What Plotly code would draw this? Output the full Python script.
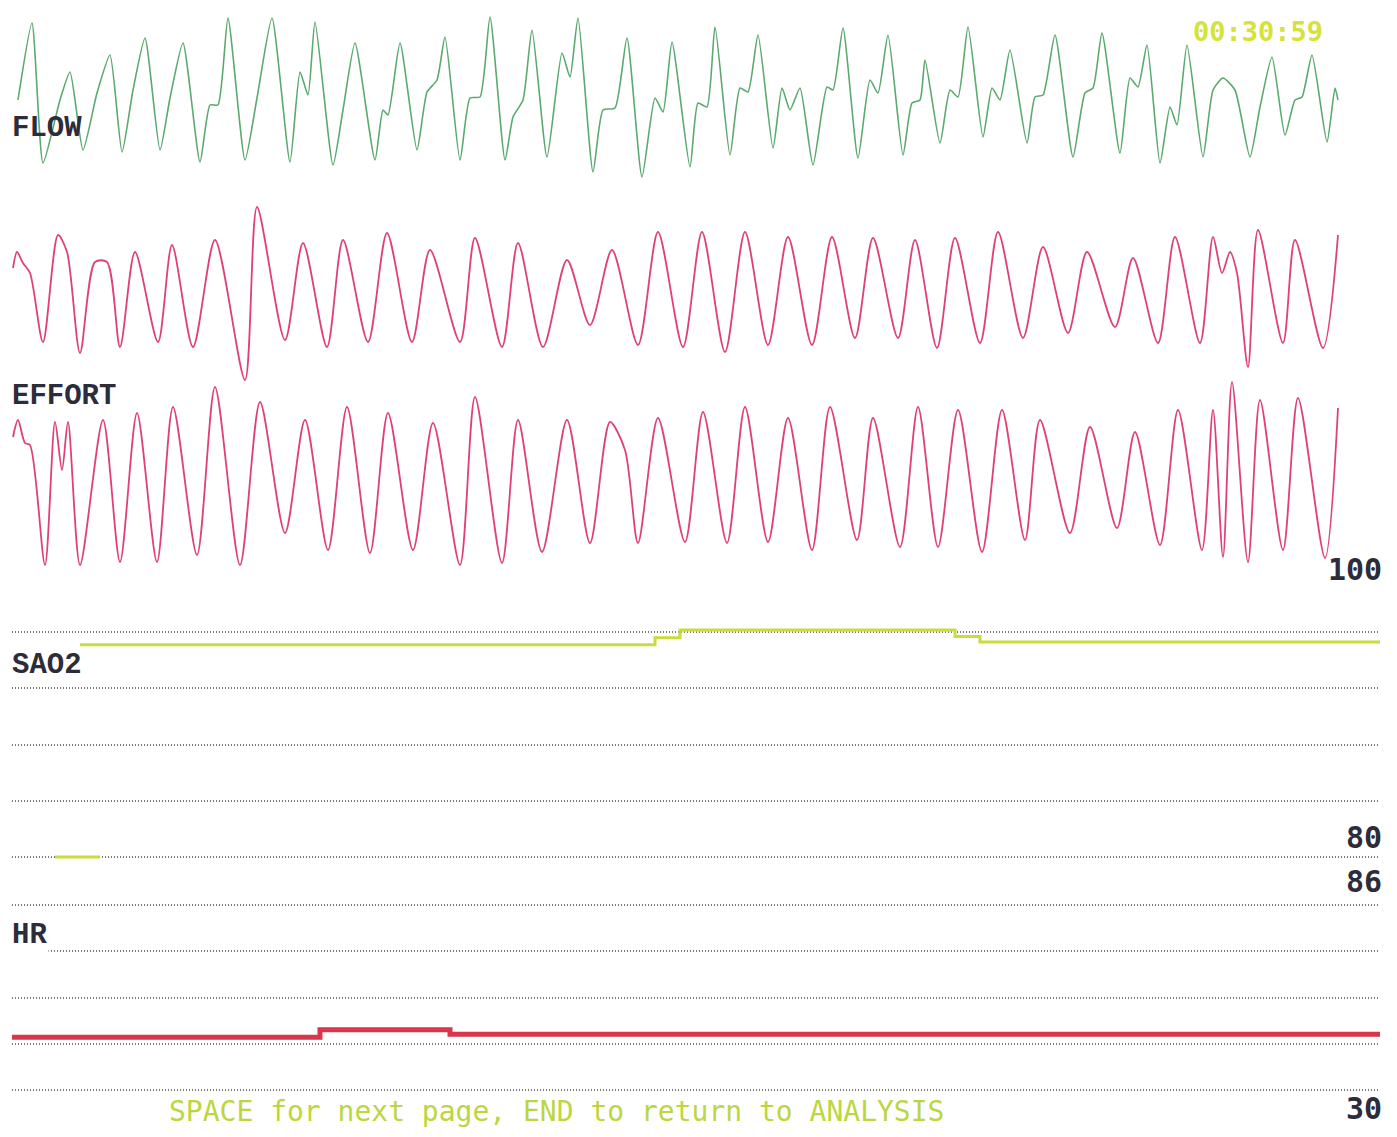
import plotly.graph_objects as go

# ---------------- data (time in s, amplitudes in arbitrary units) ----------------
flow_t = [0.3, 1.0, 1.55, 2.4, 2.9, 3.55, 4.25, 4.9, 5.5, 6.05, 6.65, 7.4, 7.9, 8.55, 9.4, 9.9, 10.3, 10.8,
          11.65, 12.25, 13.0, 13.9, 14.4, 14.8, 15.15, 16.05, 16.55, 17.15, 18.15, 18.55, 18.8, 19.4,
          20.25, 20.75, 21.25, 21.65, 22.4, 22.9, 23.4, 23.9, 24.65, 25.05, 25.55, 26.0, 26.75, 27.5,
          27.9, 28.3, 29.05, 29.55, 30.15, 30.75, 31.5, 32.15, 32.55, 33.0, 33.9, 34.3, 34.75, 35.15,
          35.9, 36.4, 36.8, 37.3, 38.05, 38.5, 38.9, 39.4, 40.05, 40.75, 41.05, 41.55, 42.3, 42.9, 43.3,
          43.8, 44.55, 45.0, 45.4, 45.65, 46.4, 46.9, 47.3, 47.8, 48.55, 49.0, 49.4, 49.9, 50.75, 51.15,
          51.55, 52.15, 53.05, 53.65, 54.05, 54.5, 55.4, 55.9, 56.3, 56.75, 57.4, 57.9, 58.25, 58.75,
          59.55, 60.05, 60.55, 61.15, 61.9, 62.4, 63.0, 63.65, 64.15, 64.5, 65.0, 65.75, 66.15, 66.3]
flow_v = [0, 77, -63, 0, 28, -50, 7, 45, -52, 10, 62, -50, 2, 57, -62, -5, -5, 82,
          -60, 2, 82, -62, 28, 5, 78, -65, -10, 57, -60, -10, -15, 57,
          -50, 8, 20, 63, -60, 2, 3, 83, -60, -17, 0, 70, -57, 47,
          23, 82, -72, -10, -8, 62, -77, 2, -12, 58, -67, -3, -7, 73,
          -55, 12, 8, 65, -48, 12, -10, 12, -65, 13, 10, 72, -58, 20, 7,
          65, -55, -3, 0, 40, -43, 10, 3, 73, -37, 12, 0, 50, -43, 3,
          5, 65, -57, 7, 12, 67, -53, 22, 13, 55, -63, -7, -25, 55,
          -57, 10, 22, 10, -57, -7, 43, -35, 0, 3, 45, -42, 12, 0]

effort1_t = [0.05, 0.25, 0.55, 0.9, 1.55, 2.3, 2.75, 3.4, 4.15, 4.75, 5.4, 6.15, 7.3, 8.0, 9.05, 10.15,
             11.65, 12.25, 13.65, 14.55, 15.75, 16.55, 17.8, 18.75, 20.0, 20.9, 22.4, 23.15, 24.5, 25.3,
             26.55, 27.75, 28.9, 30.0, 31.3, 32.3, 33.55, 34.5, 35.65, 36.65, 37.8, 38.8, 40.0, 41.0,
             42.15, 43.05, 44.3, 45.15, 46.25, 47.15, 48.4, 49.3, 50.55, 51.55, 52.8, 53.75, 55.15,
             56.05, 57.3, 58.15, 59.4, 60.05, 60.5, 60.9, 61.25, 61.8, 62.3, 63.55, 64.15, 65.55, 66.3]
effort1_v = [27, 43, 32, 22, -47, 60, 43, -58, 33, 33, -52, 43, -47, 50, -52, 55,
             -85, 88, -45, 52, -52, 55, -47, 62, -47, 45, -47, 57, -52, 52,
             -52, 35, -30, 45, -50, 63, -52, 63, -57, 63, -50, 58, -50, 58,
             -43, 57, -43, 55, -53, 57, -48, 63, -43, 48, -38, 43, -32,
             37, -48, 58, -48, 58, 22, 43, 22, -72, 65, -48, 55, -53, 60]

effort2_t = [0.05, 0.3, 0.65, 0.9, 1.65, 2.15, 2.5, 2.8, 3.4, 4.55, 5.4, 6.25, 7.25, 8.05, 9.25, 10.15,
             11.4, 12.4, 13.65, 14.65, 15.8, 16.75, 17.9, 18.8, 20.05, 21.05, 22.4, 23.15, 24.5, 25.3,
             26.5, 27.75, 28.9, 29.9, 30.65, 31.3, 32.3, 33.65, 34.55, 35.75, 36.65, 37.8, 38.8, 40.0,
             40.9, 42.25, 43.05, 44.4, 45.3, 46.3, 47.3, 48.5, 49.5, 50.65, 51.4, 52.9, 53.9, 55.25,
             56.15, 57.4, 58.3, 59.5, 60.05, 60.55, 61.0, 61.8, 62.4, 63.55, 64.3, 65.65, 66.3]
effort2_v = [48, 65, 42, 40, -80, 63, 15, 63, -80, 65, -77, 72, -77, 78, -70, 98,
             -80, 83, -48, 65, -65, 78, -68, 72, -65, 62, -80, 88, -78, 65,
             -67, 65, -58, 63, 35, -58, 67, -57, 73, -58, 78, -57, 67, -65,
             78, -55, 67, -62, 78, -62, 75, -67, 75, -55, 65, -48, 58, -43,
             53, -60, 75, -65, 75, -72, 103, -77, 85, -65, 87, -73, 77]

sao2_t = [3.4, 32.15, 33.4, 47.15, 48.4, 68.4]
sao2_v = [95.1, 95.6, 96.15, 95.7, 95.3, 95.3]
sao2_low_t = [2.15, 4.4]
sao2_low_v = [80, 80]

hr_t = [0.0, 15.4, 21.9, 68.4]
hr_v = [46.0, 48.2, 46.9, 46.9]

sao2_grid = [80, 84, 88, 92, 96]
hr_grid = [30, 44, 58, 72, 86]

clock_text = "00:30:59"
footer_text = "SPACE for next page, END to return to ANALYSIS"
channel_labels = ["FLOW", "EFFORT", "SAO2", "HR"]
scale_labels = ["100", "80", "86", "30"]

# ---------------- figure ----------------
W, H = 1397, 1137
GREEN = "#5aa96f"
PINK = "#e0407a"
SAO2_COL = "#c9dc3a"
HR_COL = "#d9354b"
LABEL_COL = "#2c2c3a"

fig = go.Figure()
fig.add_trace(go.Scatter(x=flow_t, y=flow_v, mode="lines",
                         line=dict(color=GREEN, width=1.6, shape="spline", smoothing=0.55),
                         xaxis="x", yaxis="y", name="FLOW"))
fig.add_trace(go.Scatter(x=effort1_t, y=effort1_v, mode="lines",
                         line=dict(color=PINK, width=1.8, shape="spline", smoothing=0.8),
                         xaxis="x", yaxis="y2", name="EFFORT 1"))
fig.add_trace(go.Scatter(x=effort2_t, y=effort2_v, mode="lines",
                         line=dict(color=PINK, width=1.8, shape="spline", smoothing=0.8),
                         xaxis="x", yaxis="y3", name="EFFORT 2"))
fig.add_trace(go.Scatter(x=sao2_t, y=sao2_v, mode="lines", line=dict(color=SAO2_COL, width=3, shape="hv"),
                         xaxis="x", yaxis="y4", name="SAO2"))
fig.add_trace(go.Scatter(x=sao2_low_t, y=sao2_low_v, mode="lines", line=dict(color=SAO2_COL, width=3),
                         xaxis="x", yaxis="y4", name="SAO2 low"))
fig.add_trace(go.Scatter(x=hr_t, y=hr_v, mode="lines", line=dict(color=HR_COL, width=5, shape="hv"),
                         xaxis="x", yaxis="y5", name="HR"))

def px_domain(top_px, bottom_px):
    return [1 - bottom_px / H, 1 - top_px / H]

hidden = dict(visible=False, fixedrange=True)
grid_style = dict(visible=True, showgrid=True, gridcolor="#7a7a7a", gridwidth=2, griddash="1px,2px",
                  showticklabels=False, ticks="", zeroline=False, showline=False, fixedrange=True)

fig.update_layout(
    width=W, height=H,
    margin=dict(l=0, r=0, t=0, b=0),
    paper_bgcolor="white", plot_bgcolor="white",
    showlegend=False,
    xaxis=dict(domain=[12 / W, 1380 / W], range=[0, 68.4], visible=False, fixedrange=True),
    yaxis=dict(domain=px_domain(0, 200), range=[-100, 100], anchor="x", **hidden),
    yaxis2=dict(domain=px_domain(195, 395), range=[-100, 100], anchor="x", **hidden),
    yaxis3=dict(domain=px_domain(370, 600), range=[-115, 115], anchor="x", **hidden),
    yaxis4=dict(domain=px_domain(576, 864), range=[79.5, 100], anchor="x", tickvals=sao2_grid, **grid_style),
    yaxis5=dict(domain=px_domain(898.4, 1096.6), range=[28, 88], anchor="x", tickvals=hr_grid, **grid_style),
)

NAME_FONT = "Liberation Mono, DejaVu Sans Mono, monospace"
NUM_FONT = "DejaVu Sans Mono, monospace"

def ann(text, x, y, xanchor, size, color, family, bg=None):
    d = dict(text=text, x=x, y=y, xref="paper", yref="paper", xanchor=xanchor, yanchor="middle",
             showarrow=False, font=dict(size=size, color=color, family=family))
    if bg:
        d["bgcolor"] = bg
    fig.add_annotation(**d)

label_y = [128, 396, 665, 936]
for text, y in zip(channel_labels, label_y):
    ann("<b>" + text + "</b>", 10 / W, 1 - y / H, "left", 29, LABEL_COL, NAME_FONT,
        bg="white" if text == "HR" else None)

scale_y = [569, 837, 882, 1108]
for text, y in zip(scale_labels, scale_y):
    ann("<b>" + text + "</b>", 1384 / W, 1 - y / H, "right", 30, LABEL_COL, NUM_FONT)

ann("<b>" + clock_text + "</b>", 1258 / W, 1 - 32 / H, "center", 27, "#d4e23a", "DejaVu Sans Mono, monospace")
ann(footer_text, 556 / W, 1 - 1111 / H, "center", 28, "#bcd640", "DejaVu Sans Mono, monospace")

fig.write_html("out.html")
